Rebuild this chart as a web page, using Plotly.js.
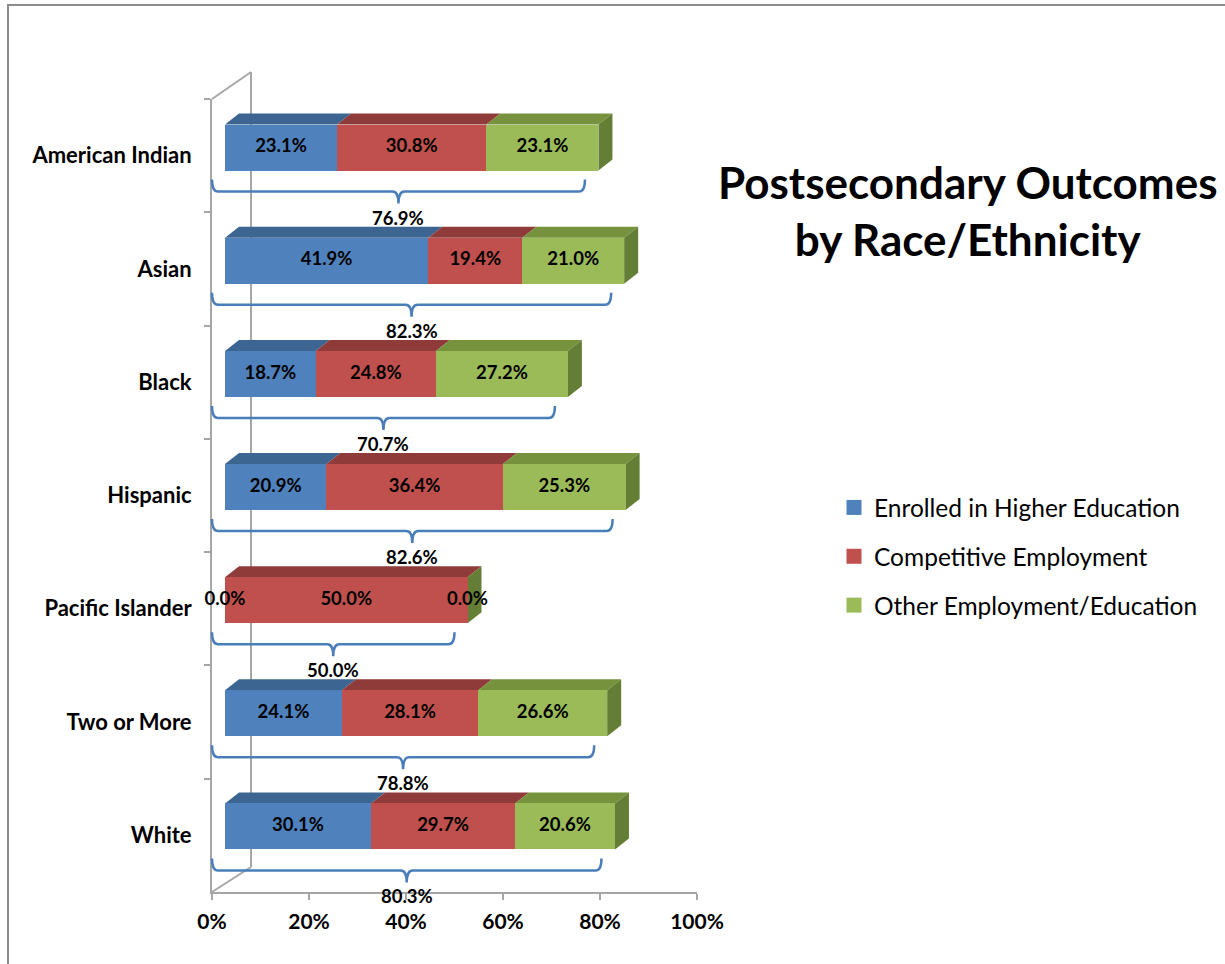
<!DOCTYPE html>
<html>
<head>
<meta charset="utf-8">
<script src="https://cdn.plot.ly/plotly-3.0.1.min.js"></script>
<style>
  html, body { margin: 0; padding: 0; background: #fff; }
  #plot { width: 1225px; height: 964px; }
</style>
</head>
<body>
<div id="plot"></div>
<script>
// data
let groups = ['American Indian', 'Asian', 'Black', 'Hispanic', 'Pacific Islander', 'Two or More', 'White']
let seriesNames = ['Enrolled in Higher Education', 'Competitive Employment', 'Other Employment/Education']
let enrolled = [0.231, 0.419, 0.187, 0.209, 0.000, 0.241, 0.301]
let competitive = [0.308, 0.194, 0.248, 0.364, 0.500, 0.281, 0.297]
let otherEmp = [0.231, 0.210, 0.272, 0.253, 0.000, 0.266, 0.206]
let totals = [0.769, 0.823, 0.707, 0.826, 0.500, 0.788, 0.803]

let frontColors = ['#4f81bd', '#c0504d', '#9bbb59']
let topColors = ['#3d6592', '#8f3b3a', '#76923c']
let sideColor = '#657e35'
let braceColor = '#4a7ebb'
let font = 'Lato, "Open Sans", sans-serif'

// page is drawn in pixels, so helpers go px -> paper
const W = 1225, H = 964
const px = p => p / W
const py = p => 1 - p / H

// bar subplot scale: 0 at 225px, 1 at 710px; row i centre at 147.6 + 113.14*i
const x0px = 225, xScale = 485
const rowPx = 113.14, row0 = 147.6
const x2dom = [150, 760]
const y2dom = [60, 940]
const x2range = [(x2dom[0] - x0px) / xScale, (x2dom[1] - x0px) / xScale]
const y2range = [(y2dom[1] - row0) / rowPx, (y2dom[0] - row0) / rowPx]
const ux = 1 / xScale, uy = 1 / rowPx
const barW = 46 / rowPx
const dx = 14 * ux, dy = 11 * uy

let series = [enrolled, competitive, otherEmp]
let traces = []

// front faces
series.forEach((vals, k) => {
  traces.push({
    type: 'bar', orientation: 'h',
    x: vals, y: groups,
    xaxis: 'x2', yaxis: 'y2',
    width: barW,
    marker: {color: frontColors[k], line: {width: 0}},
    showlegend: false, hoverinfo: 'skip'
  })
})

// segment labels at the middle of each segment
let lx = [], ly = [], lt = []
groups.forEach((g, i) => {
  let start = 0
  series.forEach(vals => {
    lx.push(start + vals[i] / 2)
    ly.push(g)
    lt.push((vals[i] * 100).toFixed(1) + '%')
    start += vals[i]
  })
})
traces.push({
  type: 'scatter', mode: 'text',
  x: lx, y: ly, text: lt,
  xaxis: 'x2', yaxis: 'y2',
  textfont: {family: font, size: 18.5, color: '#000', weight: 'bold'},
  showlegend: false, hoverinfo: 'skip', cliponaxis: false
})

// invisible trace so the label axis knows its categories
traces.push({
  type: 'scatter', mode: 'markers',
  x: groups.map(() => 0), y: groups,
  marker: {opacity: 0}, showlegend: false, hoverinfo: 'skip'
})

// legend entries (square markers)
seriesNames.forEach((name, k) => {
  traces.push({
    type: 'scatter', mode: 'markers',
    x: [null], y: [null], xaxis: 'x2', yaxis: 'y2',
    name: name, legendgroup: 'g' + k,
    marker: {symbol: 'square', size: 15, color: frontColors[k]}
  })
})

// 3d top / side faces and braces
let shapes = []
groups.forEach((g, i) => {
  let yt = i - barW / 2, yb = i + barW / 2
  let start = 0
  series.forEach((vals, k) => {
    let a = start, b = start + vals[i]
    if (vals[i] > 0) {
      shapes.push({
        type: 'path', xref: 'x2', yref: 'y2', layer: 'below',
        path: `M${a},${yt} L${b},${yt} L${b + dx},${yt - dy} L${a + dx},${yt - dy} Z`,
        fillcolor: topColors[k], line: {width: 0}
      })
    }
    start = b
  })
  shapes.push({
    type: 'path', xref: 'x2', yref: 'y2', layer: 'below',
    path: `M${start},${yt} L${start + dx},${yt - dy} L${start + dx},${yb - dy} L${start},${yb} Z`,
    fillcolor: sideColor, line: {width: 0}
  })

  // brace under the bar, from the front 0 line to the total
  let xa = -13 * ux, xb = totals[i] - 13 * ux, xm = (xa + xb) / 2
  let yl = i + 44 * uy
  let up = 12 * uy, dn = 12 * uy, r = 6 * ux
  shapes.push({
    type: 'path', xref: 'x2', yref: 'y2', layer: 'below',
    path: `M${xa},${yl - up} Q${xa},${yl} ${xa + r},${yl} L${xm - r},${yl} Q${xm},${yl} ${xm},${yl + dn}` +
          ` Q${xm},${yl} ${xm + r},${yl} L${xb - r},${yl} Q${xb},${yl} ${xb},${yl - up}`,
    line: {color: braceColor, width: 2.5}
  })
})

// brace total labels
let annotations = groups.map((g, i) => ({
  xref: 'x2', yref: 'y2',
  x: totals[i] / 2 - 13 * ux, y: i + 70 * uy,
  text: (totals[i] * 100).toFixed(1) + '%',
  showarrow: false,
  font: {family: font, size: 18.5, color: '#000', weight: 'bold'}
}))

annotations.push({
  xref: 'paper', yref: 'paper',
  x: px(968), y: py(210), xanchor: 'center', yanchor: 'middle',
  text: 'Postsecondary Outcomes<br>by Race/Ethnicity',
  showarrow: false, align: 'center',
  font: {family: font, size: 44, color: '#000', weight: 'bold'}
})

// back wall outline and chart frame
let grey = '#a6a6a6'
shapes.push(
  {type: 'line', xref: 'paper', yref: 'paper', x0: px(251), x1: px(251), y0: py(72), y1: py(867), line: {color: grey, width: 2}, layer: 'below'},
  {type: 'line', xref: 'paper', yref: 'paper', x0: px(212), x1: px(251), y0: py(99), y1: py(72), line: {color: grey, width: 2}, layer: 'below'},
  {type: 'line', xref: 'paper', yref: 'paper', x0: px(212), x1: px(251), y0: py(892), y1: py(867), line: {color: grey, width: 2}, layer: 'below'},
  {type: 'rect', xref: 'paper', yref: 'paper', x0: px(8), x1: 1.02, y0: -0.02, y1: py(5), line: {color: '#8c8c8c', width: 2}, layer: 'below'}
)

let layout = {
  width: W, height: H,
  margin: {l: 0, r: 0, t: 0, b: 0},
  paper_bgcolor: '#fff', plot_bgcolor: 'rgba(0,0,0,0)',
  barmode: 'stack',
  bargap: 0,
  showlegend: true,
  legend: {
    x: px(834), y: py(485), xanchor: 'left', yanchor: 'top',
    font: {family: font, size: 24.5, color: '#000'},
    tracegroupgap: 14, bgcolor: 'rgba(0,0,0,0)'
  },
  xaxis: {
    domain: [px(212), px(697)], range: [0, 1], anchor: 'y',
    tickvals: [0, 0.2, 0.4, 0.6, 0.8, 1], tickformat: '.0%',
    showline: true, linecolor: grey, linewidth: 2,
    ticks: 'outside', ticklen: 6, tickcolor: grey, tickwidth: 2,
    ticklabelstandoff: 4,
    showgrid: false, zeroline: false, fixedrange: true,
    tickfont: {family: font, size: 21, color: '#000', weight: 'bold'}
  },
  yaxis: {
    domain: [py(892), py(99)], anchor: 'x',
    type: 'category', categoryorder: 'array', categoryarray: groups,
    range: [6.5, -0.5],
    showline: true, linecolor: grey, linewidth: 2,
    ticks: 'outside', tickson: 'boundaries', ticklen: 6, tickcolor: grey, tickwidth: 2,
    ticklabelstandoff: 14,
    showgrid: false, zeroline: false, fixedrange: true,
    tickfont: {family: font, size: 22, color: '#000', weight: 'bold'}
  },
  xaxis2: {
    domain: [px(x2dom[0]), px(x2dom[1])], range: x2range, anchor: 'y2',
    visible: false, fixedrange: true
  },
  yaxis2: {
    domain: [py(y2dom[1]), py(y2dom[0])], anchor: 'x2',
    type: 'category', categoryorder: 'array', categoryarray: groups,
    range: y2range, visible: false, fixedrange: true
  },
  shapes: shapes,
  annotations: annotations
}

Plotly.newPlot('plot', traces, layout, {displayModeBar: false, staticPlot: true})
</script>
</body>
</html>
